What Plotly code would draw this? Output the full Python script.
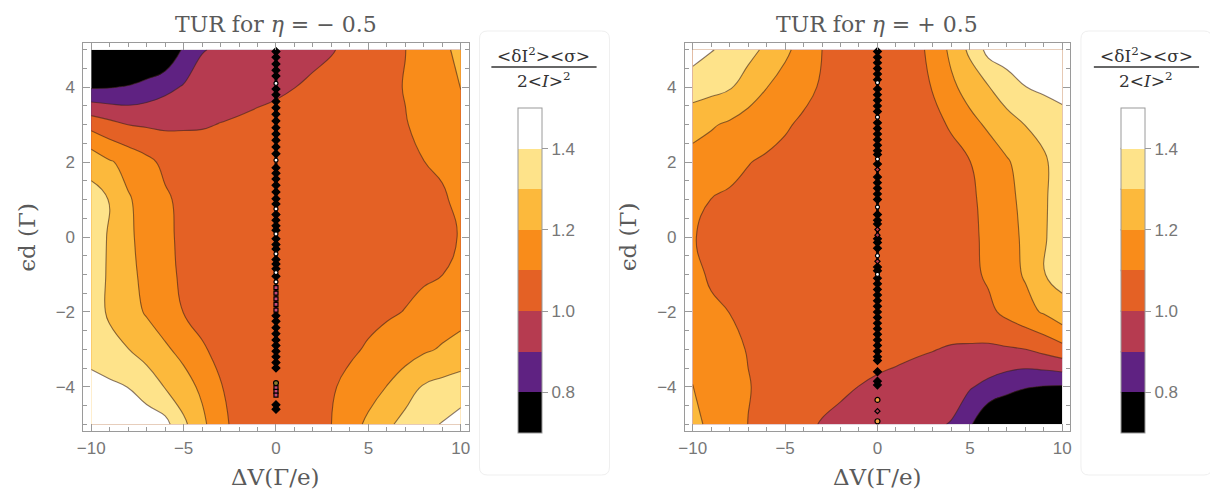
import plotly.graph_objects as go

# Grid of bias voltage (ΔV, units Γ/e) and dot level (εd, units Γ)
dv = [-10, -9, -8, -7, -6, -5, -4, -3, -2, -1, 0, 1, 2, 3, 4, 5, 6, 7, 8, 9, 10]
eps_d = [-5, -4, -3, -2, -1, 0, 1, 2, 3, 4, 5]

# TUR ratio for eta = -0.5, one row per eps_d value (bottom to top)
tur_eta_neg = [
    [1.52, 1.50, 1.48, 1.45, 1.43, 1.32, 1.225, 1.125, 1.07, 1.055, 1.05, 1.055, 1.07, 1.10, 1.16, 1.22, 1.278, 1.335, 1.375, 1.405, 1.44],
    [1.43, 1.42, 1.398, 1.355, 1.295, 1.24, 1.18, 1.105, 1.065, 1.048, 1.045, 1.05, 1.065, 1.09, 1.125, 1.16, 1.202, 1.25, 1.31, 1.33, 1.35],
    [1.365, 1.325, 1.302, 1.26, 1.215, 1.17, 1.11, 1.075, 1.055, 1.045, 1.042, 1.045, 1.055, 1.068, 1.085, 1.11, 1.135, 1.16, 1.185, 1.21, 1.23],
    [1.34, 1.288, 1.24, 1.19, 1.145, 1.098, 1.07, 1.055, 1.045, 1.04, 1.038, 1.04, 1.045, 1.055, 1.065, 1.075, 1.088, 1.103, 1.125, 1.148, 1.17],
    [1.33, 1.292, 1.225, 1.175, 1.125, 1.085, 1.06, 1.048, 1.04, 1.036, 1.035, 1.037, 1.04, 1.045, 1.052, 1.06, 1.068, 1.077, 1.088, 1.099, 1.13],
    [1.325, 1.295, 1.215, 1.17, 1.12, 1.08, 1.058, 1.046, 1.04, 1.037, 1.036, 1.037, 1.04, 1.044, 1.05, 1.056, 1.063, 1.07, 1.078, 1.084, 1.104],
    [1.33, 1.297, 1.209, 1.165, 1.115, 1.075, 1.055, 1.045, 1.04, 1.038, 1.037, 1.038, 1.04, 1.045, 1.05, 1.057, 1.065, 1.073, 1.082, 1.08, 1.14],
    [1.27, 1.21, 1.17, 1.125, 1.077, 1.065, 1.055, 1.05, 1.047, 1.045, 1.045, 1.047, 1.05, 1.055, 1.062, 1.07, 1.08, 1.09, 1.099, 1.125, 1.16],
    [1.067, 1.03, 0.999, 0.99, 0.985, 0.988, 0.992, 1.003, 1.012, 1.02, 1.03, 1.04, 1.055, 1.065, 1.075, 1.083, 1.09, 1.097, 1.115, 1.14, 1.17],
    [0.79, 0.795, 0.808, 0.838, 0.875, 0.908, 0.93, 0.948, 0.962, 0.976, 0.985, 0.999, 1.012, 1.03, 1.048, 1.066, 1.085, 1.103, 1.14, 1.17, 1.202],
    [0.60, 0.61, 0.63, 0.66, 0.70, 0.815, 0.896, 0.911, 0.926, 0.94, 0.954, 0.968, 0.982, 0.994, 1.02, 1.046, 1.073, 1.099, 1.14, 1.182, 1.222],
]

# eta -> -eta maps (ΔV, εd) -> (-ΔV, -εd)
tur_eta_pos = [row[::-1] for row in tur_eta_neg[::-1]]

# Contour levels, colour-bar span and band colours
level_start, level_end, level_step = 0.8, 1.4, 0.1
cbar_min, cbar_max = 0.7, 1.5
band_colors = ["#000000", "#5f2282", "#b63b50", "#e46125", "#f98c1a", "#fcb93c", "#fee38a", "#ffffff"]
cbar_ticks = [0.8, 1.0, 1.2, 1.4]
cbar_ticktext = ["0.8", "1.0", "1.2", "1.4"]

# Numerical spikes along ΔV = 0
neg_column_span = [-3.5, 4.95]
neg_black_y = [4.95, 4.8, 4.62, 4.45, 4.3, 3.95, 3.8, 3.62, 3.45, 3.28, 3.1, 2.92, 2.75, 2.58, 2.4, 2.22,
               1.85, 1.7, 1.55, 1.38, 1.2, 1.02, 0.88, 0.6, 0.45, 0.3, 0.18, -0.05, -0.2, -0.32, -0.6,
               -0.72, -0.85, -1.05, -2.1, -2.25, -2.42, -2.58, -2.75, -2.9, -3.05, -3.2, -3.35, -3.5,
               -4.48, -4.6]
neg_ring_y = [4.1, 2.05, 0.75, 0.08, -0.45, -0.95, -1.2]
neg_pink_y = [-1.35, -1.5, -1.65, -1.8, -1.95, -4.02, -4.12, -4.22]
neg_olive_y = [-3.9]

pos_column_span = [-3.3, 4.95]
pos_black_y = [4.95, 4.8, 4.65, 4.5, 4.35, 4.2, 3.95, 3.8, 3.65, 3.5, 3.35, 3.05, 2.9, 2.75, 2.6, 2.45,
               2.3, 2.2, 1.95, 1.6, 1.45, 1.3, 1.15, 1.0, 0.6, 0.45, 0.35, -0.05, -0.15, -0.3, -0.8,
               -0.9, -1.1, -1.25, -1.4, -1.55, -1.7, -1.85, -2.0, -2.15, -2.3, -2.45, -2.6, -2.75,
               -2.9, -3.05, -3.2, -3.3, -3.6, -3.85, -3.95]
pos_ring_y = [4.12, 3.2, 2.08, 0.8, -0.5, -1.0]
pos_pink_y = [1.8, 0.2, 0.05, -0.65, -4.65]
pos_orange_y = [-4.35, -4.92]

W, H = 1210, 498
panels = [
    dict(z=tur_eta_neg, title="TUR for <i>η</i> = − 0.5", left=77, right=465, cbar_left=515,
         box=(476, 607), column=neg_column_span,
         spikes=[(neg_black_y, "diamond", "#000000", 6), (neg_pink_y, "square", "#c04a78", 4),
                 (neg_olive_y, "circle", "#8c7a2a", 5), (neg_ring_y, "circle", "#ffffff", 4)]),
    dict(z=tur_eta_pos, title="TUR for <i>η</i> = + 0.5", left=683, right=1071, cbar_left=1122,
         box=(1082, 1214), column=pos_column_span,
         spikes=[(pos_black_y, "diamond", "#000000", 6), (pos_pink_y, "diamond", "#b63b50", 4),
                 (pos_orange_y, "circle", "#f0a040", 5), (pos_ring_y, "circle", "#ffffff", 4)]),
]

frame_top, frame_bottom = 43, 431
cbar_top, cbar_bottom = 108, 433
contour_scale = [[k / (len(band_colors) - 1), c] for k, c in enumerate(band_colors)]
# stepped scale for the stand-alone colour bar
n_b = len(band_colors)
bar_scale = []
for k, c in enumerate(band_colors):
    bar_scale += [[k / n_b, c], [(k + 1) / n_b, c]]
axis_gray = "#9a9a9a"
line_col = "rgba(60,35,25,0.6)"
tick_font = dict(family="Liberation Sans", size=17, color="#777777")
serif = "DejaVu Serif"

fig = go.Figure()
annotations = []
shapes = []

for i, p in enumerate(panels):
    xa = "x" if i == 0 else "x2"
    ya = "y" if i == 0 else "y2"
    fig.add_trace(go.Contour(
        x=dv, y=eps_d, z=p["z"],
        xaxis=xa, yaxis=ya,
        colorscale=contour_scale, showscale=False,
        contours=dict(start=level_start, end=level_end, size=level_step, coloring="fill", showlines=True),
        line=dict(color=line_col, width=1.1, smoothing=1.3),
        hoverinfo="skip",
    ))
    # colour bar carried by a single off-range cell
    fig.add_trace(go.Heatmap(
        x=[1000], y=[1000], z=[[cbar_min]], zmin=cbar_min, zmax=cbar_max,
        xaxis=xa, yaxis=ya, colorscale=bar_scale, hoverinfo="skip",
        colorbar=dict(
            x=p["cbar_left"] / W, xanchor="left", xpad=0, ypad=0,
            y=1 - (cbar_top + cbar_bottom) / 2 / H, yanchor="middle",
            len=(cbar_bottom - cbar_top) / H, lenmode="fraction",
            thickness=24, thicknessmode="pixels",
            outlinewidth=1, outlinecolor=axis_gray,
            tickvals=cbar_ticks, ticktext=cbar_ticktext,
            ticks="outside", ticklen=6, tickcolor=axis_gray,
            tickfont=dict(family="Liberation Sans", size=17, color="#777777"),
        ),
    ))
    # level separators on the colour bar
    nlev = int(round((level_end - level_start) / level_step)) + 1
    for k in range(nlev):
        lv = level_start + k * level_step
        py = cbar_bottom - (lv - cbar_min) / (cbar_max - cbar_min) * (cbar_bottom - cbar_top)
        shapes.append(dict(type="line", xref="paper", yref="paper",
                           x0=p["cbar_left"] / W, x1=(p["cbar_left"] + 24) / W,
                           y0=1 - py / H, y1=1 - py / H, line=dict(color=line_col, width=1.5)))

    fig.add_trace(go.Scatter(
        x=[0, 0], y=p["column"], xaxis=xa, yaxis=ya, mode="lines",
        line=dict(color="rgba(0,0,0,0.85)", width=3), showlegend=False, hoverinfo="skip",
    ))
    for ys, sym, col, sz in p["spikes"]:
        fig.add_trace(go.Scatter(
            x=[0] * len(ys), y=ys, xaxis=xa, yaxis=ya, mode="markers",
            marker=dict(symbol=sym, size=sz, color=col, line=dict(color="#000000", width=1.2)),
            showlegend=False, hoverinfo="skip",
        ))

    dom = [p["left"] / W, p["right"] / W]
    axis_common = dict(showgrid=False, zeroline=False, showline=True, linecolor=axis_gray, linewidth=1,
                       mirror="allticks", ticks="inside", ticklen=7, tickcolor=axis_gray, tickwidth=1,
                       tickfont=tick_font)
    fig.update_layout(**{
        ("xaxis" if i == 0 else "xaxis2"): dict(
            domain=dom, range=[-10.42, 10.42], anchor=ya, tickvals=[-10, -5, 0, 5, 10],
            ticklabelstandoff=2,
            minor=dict(dtick=1, tick0=0, ticks="inside", ticklen=4, tickcolor=axis_gray), **axis_common),
        ("yaxis" if i == 0 else "yaxis2"): dict(
            domain=[1 - frame_bottom / H, 1 - frame_top / H], range=[-5.18, 5.18], anchor=xa,
            tickvals=[-4, -2, 0, 2, 4], ticklabelstandoff=4,
            minor=dict(dtick=0.5, tick0=0, ticks="inside", ticklen=4, tickcolor=axis_gray), **axis_common),
    })

    cx = (p["left"] + p["right"]) / 2 / W
    annotations.append(dict(text=p["title"], x=cx, y=1 - 25 / H, xref="paper", yref="paper",
                            showarrow=False, xanchor="center", yanchor="middle",
                            font=dict(family=serif, size=22, color="#5a5a5a")))
    annotations.append(dict(text="ΔV(Γ/e)", x=cx, y=1 - 477 / H, xref="paper", yref="paper",
                            showarrow=False, xanchor="center", yanchor="middle",
                            font=dict(family=serif, size=23, color="#5a5a5a")))
    annotations.append(dict(text="ϵd (Γ)", x=(p["left"] - 57) / W, y=1 - 237 / H, xref="paper",
                            yref="paper", showarrow=False, xanchor="center", yanchor="middle",
                            textangle=-90, font=dict(family=serif, size=23, color="#5a5a5a")))

    # colour-bar heading as a stacked fraction
    fx = (p["cbar_left"] + 26) / W
    annotations.append(dict(text="&lt;δI<sup>2</sup>&gt;&lt;σ&gt;", x=fx, y=1 - 55 / H, xref="paper",
                            yref="paper", showarrow=False, xanchor="center", yanchor="middle",
                            font=dict(family=serif, size=17, color="#333333")))
    annotations.append(dict(text="2&lt;<i>I</i>&gt;<sup>2</sup>", x=fx, y=1 - 80 / H, xref="paper",
                            yref="paper", showarrow=False, xanchor="center", yanchor="middle",
                            font=dict(family=serif, size=17, color="#333333")))
    shapes.append(dict(type="line", xref="paper", yref="paper",
                       x0=(p["cbar_left"] - 27) / W, x1=(p["cbar_left"] + 79) / W,
                       y0=1 - 67 / H, y1=1 - 67 / H, line=dict(color="#333333", width=1.5)))

    # faint rounded frame around the colour legend
    bx0, bx1 = p["box"]
    by0, by1 = 31, 475
    r = 8
    pts = [("M", bx0 + r, by0), ("L", bx1 - r, by0), ("Q", bx1, by0, bx1, by0 + r),
           ("L", bx1, by1 - r), ("Q", bx1, by1, bx1 - r, by1), ("L", bx0 + r, by1),
           ("Q", bx0, by1, bx0, by1 - r), ("L", bx0, by0 + r), ("Q", bx0, by0, bx0 + r, by0)]
    segs = []
    for seg in pts:
        cmd, vals = seg[0], seg[1:]
        coords = []
        for j in range(0, len(vals), 2):
            coords.append(f"{vals[j] / W:.5f},{1 - vals[j + 1] / H:.5f}")
        segs.append(cmd + " " + " ".join(coords))
    shapes.append(dict(type="path", xref="paper", yref="paper", path=" ".join(segs) + " Z",
                       line=dict(color="#efefef", width=1), layer="below"))

fig.update_layout(
    width=W, height=H, autosize=False,
    margin=dict(l=0, r=0, t=0, b=0),
    paper_bgcolor="white", plot_bgcolor="white",
    showlegend=False,
    annotations=annotations, shapes=shapes,
)

fig.write_html("out.html")
